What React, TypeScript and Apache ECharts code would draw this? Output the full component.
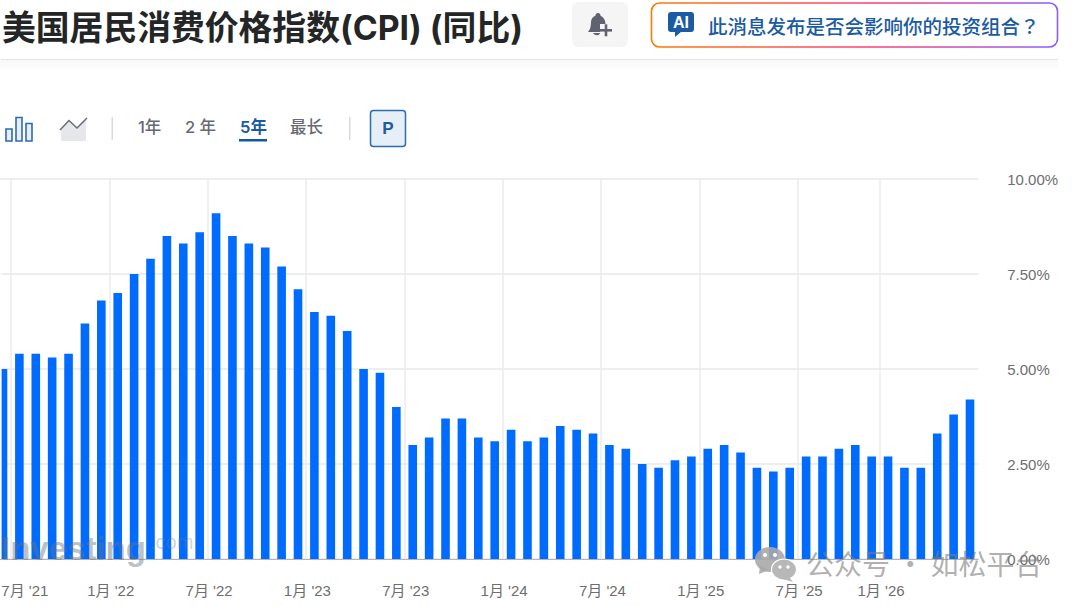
import React, { useEffect, useRef } from "react";
import * as echarts from "echarts";

const title = "美国居民消费价格指数(CPI) (同比)";
const promptText = "此消息发布是否会影响你的投资组合？";
const rangeLabels = ["1年", "2 年", "5年", "最长"];
const categories = [
  "6月 '21", "7月 '21", "8月 '21", "9月 '21", "10月 '21", "11月 '21", "12月 '21",
  "1月 '22", "2月 '22", "3月 '22", "4月 '22", "5月 '22", "6月 '22",
  "7月 '22", "8月 '22", "9月 '22", "10月 '22", "11月 '22", "12月 '22",
  "1月 '23", "2月 '23", "3月 '23", "4月 '23", "5月 '23", "6月 '23",
  "7月 '23", "8月 '23", "9月 '23", "10月 '23", "11月 '23", "12月 '23",
  "1月 '24", "2月 '24", "3月 '24", "4月 '24", "5月 '24", "6月 '24",
  "7月 '24", "8月 '24", "9月 '24", "10月 '24", "11月 '24", "12月 '24",
  "1月 '25", "2月 '25", "3月 '25", "4月 '25", "5月 '25", "6月 '25",
  "7月 '25", "8月 '25", "9月 '25", "10月 '25", "12月 '25",
  "1月 '26", "2月 '26", "3月 '26", "4月 '26", "5月 '26", "6月 '26",
];
const cpiValues = [
  5.0, 5.4, 5.4, 5.3, 5.4, 6.2, 6.8, 7.0, 7.5, 7.9, 8.5, 8.3, 8.6, 9.1, 8.5,
  8.3, 8.2, 7.7, 7.1, 6.5, 6.4, 6.0, 5.0, 4.9, 4.0, 3.0, 3.2, 3.7, 3.7, 3.2,
  3.1, 3.4, 3.1, 3.2, 3.5, 3.4, 3.3, 3.0, 2.9, 2.5, 2.4, 2.6, 2.7, 2.9, 3.0,
  2.8, 2.4, 2.3, 2.4, 2.7, 2.7, 2.9, 3.0, 2.7, 2.7, 2.4, 2.4, 3.3, 3.8, 4.2,
];
const labelledCategories = [
  "7月 '21", "1月 '22", "7月 '22", "1月 '23", "7月 '23", "1月 '24",
  "7月 '24", "1月 '25", "7月 '25", "1月 '26",
];

const CJK = '"Noto Sans CJK TC", sans-serif';
const LATIN_CJK = 'Inter, "Noto Sans CJK SC", sans-serif';
const ARIAL = '"Liberation Sans", "Noto Sans CJK SC", sans-serif';
const BLUE = "#1a5ba3";
const PAGE_SHIFT = 6;

echarts.graphic.registerShape(
  "bellIcon",
  echarts.graphic.extendPath(
    "M10 0 C11.5 0 12.5 1.2 12.6 2.8 C16 4.4 17.5 7.6 17.5 11 L17.5 13 L14 15.5 L13 19 L0 19 C1.5 17 2.6 15 2.8 12 L3 9 C3.2 6 4.8 3.8 7.4 2.8 C7.5 1.2 8.5 0 10 0 Z M5 20 L12 20 C11.5 23 7 23 5 20 Z",
    {},
  ) as any,
);

echarts.graphic.registerShape(
  "aiBubble",
  echarts.graphic.extendPath(
    "M3 0 L23 0 C25 0 26 1 26 3 L26 17 C26 19 25 20 23 20 L13 20 L7 25 L7 20 L3 20 C1 20 0 19 0 17 L0 3 C0 1 1 0 3 0 Z",
    {},
  ) as any,
);

function headerGraphics(): any[] {
  return [
    {
      type: "text", x: 2, y: 27, z: 10,
      style: {
        text: title, font: `bold 33.8px ${LATIN_CJK}`, fill: "#232526",
        verticalAlign: "middle",
      },
    },
    {
      type: "rect", z: 10,
      shape: { x: 572, y: 2, width: 56, height: 45, r: 6 },
      style: { fill: "#f5f5f6" },
    },
    { type: "bellIcon", x: 588, y: 13, z: 11, style: { fill: "#5f6270" } },
    {
      type: "rect", z: 12,
      shape: { x: 600, y: 24, width: 12, height: 12 },
      style: { fill: "#f5f5f6" },
    },
    {
      type: "rect", z: 13,
      shape: { x: 600, y: 29, width: 12, height: 2.6 },
      style: { fill: "#5f6270" },
    },
    {
      type: "rect", z: 13,
      shape: { x: 604.7, y: 24.3, width: 2.6, height: 12 },
      style: { fill: "#5f6270" },
    },
    {
      type: "rect", z: 10,
      shape: { x: 651.5, y: 3, width: 406, height: 44, r: 8 },
      style: {
        fill: "#ffffff",
        lineWidth: 1.6,
        stroke: new echarts.graphic.LinearGradient(0, 0, 1, 0, [
          { offset: 0, color: "#ff7a00" },
          { offset: 0.55, color: "#ff3d78" },
          { offset: 1, color: "#8a5cff" },
        ]),
      },
    },
    { type: "aiBubble", x: 668, y: 12, z: 11, style: { fill: BLUE } },
    {
      type: "text", x: 681, y: 22.5, z: 12,
      style: {
        text: "AI", font: `bold 16px ${ARIAL}`, fill: "#ffffff",
        align: "center", verticalAlign: "middle",
      },
    },
    {
      type: "text", x: 708, y: 25, z: 11,
      style: { text: promptText, font: `500 19.5px ${CJK}`, fill: BLUE, verticalAlign: "middle" },
    },
    {
      type: "rect", z: 9,
      shape: { x: 0, y: 60, width: 1058, height: 12 },
      style: {
        fill: new echarts.graphic.LinearGradient(0, 0, 0, 1, [
          { offset: 0, color: "rgba(0,0,0,0.03)" },
          { offset: 1, color: "rgba(0,0,0,0)" },
        ]),
      },
    },
    {
      type: "line", z: 10,
      shape: { x1: 1, y1: 59.5, x2: 1058, y2: 59.5 },
      style: { stroke: "#e4e4e6", lineWidth: 1 },
    },
  ];
}

function toolbarGraphics(): any[] {
  const icon = { fill: "#e9eff8", stroke: "#2a6cb3", lineWidth: 1.6 };
  const rangeX = [138, 185, 240, 290];
  const out: any[] = [
    { type: "rect", z: 10, shape: { x: 6, y: 129, width: 6, height: 12 }, style: icon },
    { type: "rect", z: 10, shape: { x: 16, y: 117.5, width: 6, height: 23.5 }, style: icon },
    { type: "rect", z: 10, shape: { x: 26, y: 123.5, width: 6, height: 17.5 }, style: icon },
    {
      type: "polygon", z: 10,
      shape: { points: [[61, 130], [69, 120.5], [77, 128], [86, 118], [86, 141], [61, 141]] },
      style: { fill: "#e6e7ea" },
    },
    {
      type: "polyline", z: 11,
      shape: { points: [[60, 130], [69, 120.5], [77, 128], [87, 118]] },
      style: { stroke: "#6a6d78", lineWidth: 1.5, fill: "none" },
    },
    { type: "rect", z: 10, shape: { x: 111.5, y: 117, width: 1.5, height: 23 }, style: { fill: "#d9dadd" } },
    { type: "rect", z: 10, shape: { x: 349, y: 117, width: 1.5, height: 23 }, style: { fill: "#d9dadd" } },
    { type: "rect", z: 10, shape: { x: 239, y: 139, width: 28, height: 2.5 }, style: { fill: "#1256a0" } },
    {
      type: "rect", z: 10,
      shape: { x: 370.5, y: 110.5, width: 35, height: 36, r: 3 },
      style: { fill: "#e6eef8", stroke: "#2a6cb3", lineWidth: 1.5 },
    },
    {
      type: "text", x: 388, y: 128.5, z: 11,
      style: {
        text: "P", font: `bold 17px ${ARIAL}`, fill: "#1a5ba3",
        align: "center", verticalAlign: "middle",
      },
    },
  ];
  rangeLabels.forEach((label, i) => {
    const active = i === 2;
    out.push({
      type: "text", x: rangeX[i], y: 126.5, z: 10,
      style: {
        text: label,
        font: `${active ? 600 : 500} 16.5px ${LATIN_CJK}`,
        fill: active ? "#1a5ba3" : "#666a73",
        verticalAlign: "middle",
      },
    });
  });
  return out;
}

function watermarkGraphics(): any[] {
  const gray = "#a9a9a9";
  return [
    { type: "rect", z: 20, shape: { x: 0, y: 180, width: 1.6, height: 379 }, style: { fill: "#ffffff" } },
    {
      type: "text", x: 1, y: 532, z: 20,
      style: {
        text: "Investing", font: `bold 33px ${ARIAL}`, fill: "rgba(105,115,130,0.45)",
        verticalAlign: "alphabetic",
      },
    },
    {
      type: "text", x: 150, y: 532, z: 20,
      style: {
        text: ".com", font: `20px ${ARIAL}`, fill: "rgba(120,125,135,0.35)",
        verticalAlign: "alphabetic",
      },
    },
    { type: "ellipse", z: 20, shape: { cx: 770, cy: 559.5, rx: 15, ry: 12.5 }, style: { fill: gray, opacity: 0.9 } },
    { type: "polygon", z: 20, shape: { points: [[760, 566], [759, 574], [769, 570]] }, style: { fill: gray, opacity: 0.9 } },
    { type: "ellipse", z: 21, shape: { cx: 784, cy: 569.5, rx: 12.5, ry: 10.5 }, style: { fill: "#b8b8b8", stroke: "#ffffff", lineWidth: 1.2 } },
    { type: "polygon", z: 21, shape: { points: [[789, 577], [793, 582], [783, 579]] }, style: { fill: "#b8b8b8" } },
    { type: "circle", z: 22, shape: { cx: 765, cy: 555, r: 2 }, style: { fill: "#ffffff" } },
    { type: "circle", z: 22, shape: { cx: 775, cy: 555, r: 2 }, style: { fill: "#ffffff" } },
    { type: "circle", z: 22, shape: { cx: 780, cy: 567, r: 1.7 }, style: { fill: "#ffffff" } },
    { type: "circle", z: 22, shape: { cx: 788, cy: 567, r: 1.7 }, style: { fill: "#ffffff" } },
    {
      type: "text", x: 806, y: 563, z: 20,
      style: {
        text: "公众号 · 如松平台", font: `28px "Noto Sans CJK SC", sans-serif`, fill: "rgba(125,125,125,0.62)",
        verticalAlign: "middle",
      },
    },
  ];
}

export default function App() {
  const ref = useRef<HTMLDivElement>(null);
  useEffect(() => {
    document.body.style.margin = "0";
    document.body.style.overflow = "hidden";
    const chart = echarts.init(ref.current!, null, { renderer: "svg" });
    const isLabelled = (i: number) => labelledCategories.includes(categories[i]);
    chart.setOption({
      animation: false,
      backgroundColor: "#ffffff",
      grid: { left: 0.8, top: 179, width: 983.4, height: 380, containLabel: false },
      xAxis: {
        type: "category",
        data: categories,
        boundaryGap: true,
        axisLine: { show: true, lineStyle: { color: "#b4b4b4", width: 1 } },
        axisTick: { show: false },
        axisLabel: {
          interval: (i: number) => isLabelled(i),
          margin: 24,
          color: "#6e6e6e",
          fontSize: 15,
          fontFamily: ARIAL,
          hideOverlap: false,
          formatter: (v: string) =>
            v === labelledCategories[0] ? `{first|${v}}` : `{rest|${v}}`,
          rich: {
            first: { padding: [0, 0, 0, 11], color: "#6e6e6e", fontSize: 15, fontFamily: ARIAL },
            rest: { padding: [0, 14, 0, 0], color: "#6e6e6e", fontSize: 15, fontFamily: ARIAL },
          },
        },
        splitLine: {
          show: true,
          interval: (i: number) => isLabelled(i),
          showMaxLine: false,
          lineStyle: { color: "#ebebeb", width: 1.5 },
        },
      },
      yAxis: {
        type: "value",
        position: "right",
        min: 0,
        max: 10,
        interval: 2.5,
        axisLine: { show: false },
        axisTick: { show: false },
        axisLabel: {
          margin: 29,
          color: "#6e6e6e",
          fontSize: 15,
          fontFamily: ARIAL,
          formatter: (v: number) => `${v.toFixed(2)}%`,
        },
        splitLine: { show: true, lineStyle: { color: "#e8e8e8", width: 1.5 } },
      },
      series: [
        {
          type: "bar",
          data: cpiValues,
          barWidth: 8.6,
          itemStyle: { color: "#006bff" },
          silent: true,
        },
      ],
      graphic: {
        elements: [
          {
            type: "group",
            x: PAGE_SHIFT,
            y: 0,
            children: [...headerGraphics(), ...toolbarGraphics(), ...watermarkGraphics()],
          },
        ],
      },
    });
    return () => chart.dispose();
  }, []);
  return (
    <div
      ref={ref}
      style={{ width: 1080 + PAGE_SHIFT, height: 607, marginLeft: -PAGE_SHIFT }}
    />
  );
}
